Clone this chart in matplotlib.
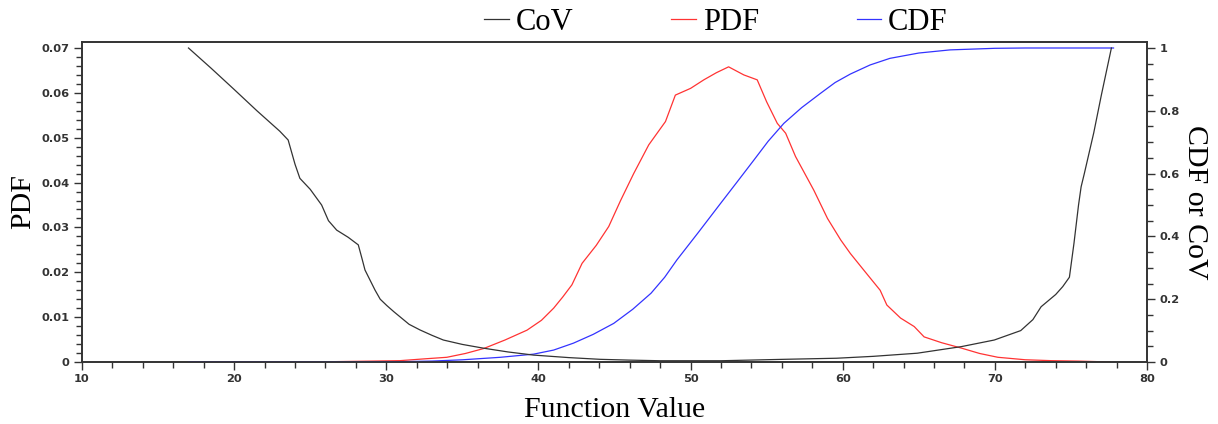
import matplotlib
matplotlib.use("Agg")
import matplotlib.pyplot as plt
from matplotlib.ticker import MultipleLocator, FuncFormatter

# ---- data ----
cov_x = [17.0, 18.5, 20.0, 21.5, 23.0, 23.55, 24.0, 24.32, 25.0, 25.75, 26.2, 26.74,
         27.5, 28.16, 28.4, 28.6, 29.26, 29.6, 30.03, 30.5, 30.9, 31.5, 32.22, 33.0,
         33.75, 35.0, 36.39, 38.0, 39.68, 42.0, 44.07, 46.0, 48.0, 52.0, 56.1, 59.6,
         62.0, 64.9, 67.8, 69.96, 71.7, 72.5, 73.04, 74.0, 74.46, 74.9, 75.2, 75.5,
         75.67, 75.88, 76.5, 77.0, 77.66]
cov_y = [1.0, 0.935, 0.868, 0.8, 0.735, 0.707, 0.63, 0.585, 0.55, 0.5, 0.45, 0.42,
         0.397, 0.373, 0.33, 0.293, 0.229, 0.2, 0.18, 0.16, 0.144, 0.12, 0.102, 0.085,
         0.07, 0.056, 0.044, 0.032, 0.022, 0.014, 0.0085, 0.006, 0.004, 0.004, 0.0085, 0.012,
         0.018, 0.028, 0.049, 0.07, 0.10, 0.135, 0.176, 0.215, 0.24, 0.27, 0.378, 0.5,
         0.558, 0.6, 0.73, 0.85, 1.0]

pdf_x = [17, 25, 29, 30.9, 32.5, 33.98, 35.2, 36.4, 37.8, 39.25, 40.2, 41.0, 41.6, 42.2,
         42.87, 43.8, 44.62, 45.4, 46.26, 47.25, 48.35, 49.0, 50.0, 50.87, 51.7, 52.5,
         53.5, 54.38, 55.0, 55.7, 56.25, 56.9, 58.1, 59.0, 59.87, 60.5, 61.5, 62.46, 62.9,
         63.8, 64.7, 65.35, 66.5, 67.8, 69.0, 70.2, 72.0, 73.7, 75.5, 77.6]
pdf_y = [0, 0, 0.0002, 0.0003, 0.0007, 0.00105, 0.0019, 0.003, 0.0049, 0.0071, 0.0093,
         0.012, 0.0145, 0.0172, 0.022, 0.026, 0.0302, 0.036, 0.042, 0.0484, 0.0536, 0.0595,
         0.061, 0.0629, 0.0645, 0.0658, 0.064, 0.0629, 0.058, 0.0532, 0.051, 0.0458, 0.0383,
         0.032, 0.0272, 0.0242, 0.02, 0.016, 0.0127, 0.0098, 0.0079, 0.0056, 0.0043, 0.0031,
         0.0019, 0.00105, 0.0005, 0.0003, 0.0002, 0.0]

cdf_x = [17, 28, 30.9, 33, 35, 37.5, 39.68, 41.0, 42.3, 43.6, 44.95, 46.2, 47.4, 48.3,
         49.1, 50.5, 51.97, 53.1, 54.16, 55.1, 56.13, 57.3, 58.55, 59.5, 60.5, 61.8, 63.1,
         65.0, 67.06, 70.0, 72, 77.8]
cdf_y = [0, 0.0, 0.001, 0.003, 0.007, 0.015, 0.025, 0.038, 0.06, 0.088, 0.123, 0.168,
         0.219, 0.27, 0.325, 0.412, 0.505, 0.576, 0.643, 0.703, 0.76, 0.81, 0.856, 0.89,
         0.917, 0.946, 0.967, 0.984, 0.994, 0.999, 1.0, 1.0]

series_names = ["CoV", "PDF", "CDF"]

# ---- figure ----
fig = plt.figure(figsize=(12.18, 4.24), dpi=100)
ax = fig.add_axes([82/1218, 62/424, (1147-82)/1218, (362-42)/424])
ax2 = ax.twinx()

tick_color = "#333333"
serif = ["Liberation Serif", "DejaVu Serif"]

l_cdf, = ax2.plot(cdf_x, cdf_y, color="#3333ff", lw=0.9)
l_pdf, = ax.plot(pdf_x, pdf_y, color="#ff3333", lw=0.9)
l_cov, = ax2.plot(cov_x, cov_y, color="#333333", lw=0.9)

ax.set_xlim(10, 80)
ax.set_ylim(0, 0.07 * 320 / 314)
ax2.set_ylim(0, 1.0 * 320 / 314)

ax.xaxis.set_major_locator(MultipleLocator(10))
ax.xaxis.set_minor_locator(MultipleLocator(2))
ax.yaxis.set_major_locator(MultipleLocator(0.01))
ax.yaxis.set_minor_locator(MultipleLocator(0.002))
ax2.yaxis.set_major_locator(MultipleLocator(0.2))
ax2.yaxis.set_minor_locator(MultipleLocator(0.05))

def fmt(v, pos):
    s = f"{v:.2f}".rstrip("0").rstrip(".")
    return s if s else "0"
ax.yaxis.set_major_formatter(FuncFormatter(fmt))
ax2.yaxis.set_major_formatter(FuncFormatter(lambda v, p: f"{v:.1f}".rstrip("0").rstrip(".")))

for a in (ax, ax2):
    a.tick_params(which="major", direction="out", length=6, width=1.0, color=tick_color,
                  labelsize=8.2, labelcolor=tick_color, pad=3)
    a.tick_params(which="minor", direction="out", length=4, width=1.0, color=tick_color)
    for sp in a.spines.values():
        sp.set_color("#333333")
        sp.set_linewidth(1.2)

for lab in ax.get_xticklabels() + ax.get_yticklabels() + ax2.get_yticklabels():
    lab.set_fontweight("bold")

ax.set_xlabel("Function Value", fontsize=21.5, family=serif, labelpad=9)
ax.set_ylabel("PDF", fontsize=21.5, family=serif, labelpad=4)
ax2.set_ylabel("CDF or CoV", fontsize=21.5, family=serif, rotation=270, labelpad=20)

fig.legend([l_cov, l_pdf, l_cdf], series_names, loc="center",
           bbox_to_anchor=(716/1218, 1 - 22/424), ncol=3, frameon=False,
           prop={"family": serif, "size": 22}, handlelength=0.8, handletextpad=0.23,
           columnspacing=3.2, borderaxespad=0)

fig.savefig("out.png", dpi=100)
